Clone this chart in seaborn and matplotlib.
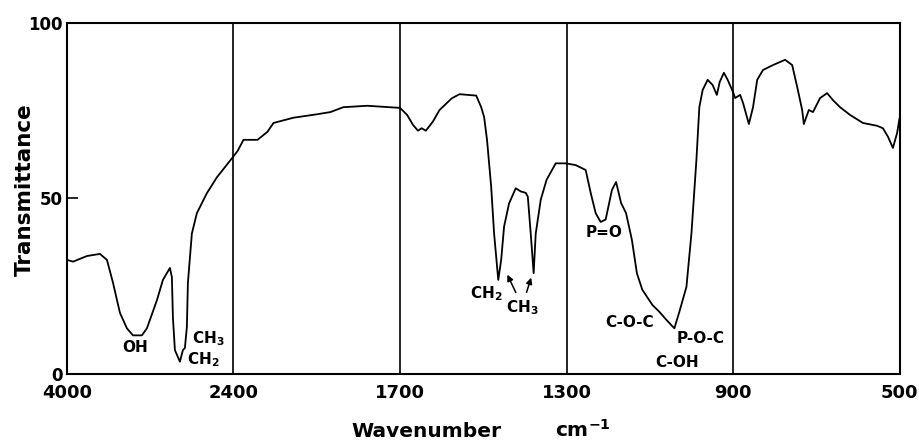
import numpy as np
import matplotlib
matplotlib.use('Agg')
import matplotlib.pyplot as plt
import seaborn as sns
import pandas as pd

# IR spectrum
wavenumber = [4000, 3942, 3808, 3683, 3616, 3558, 3491, 3424, 3366, 3280, 3232, 3136, 3078,
              3011, 2992, 2982, 2963, 2915, 2886, 2867, 2848, 2838, 2800, 2752, 2656, 2560, 2400,
              2383, 2358, 2299, 2257, 2232, 2148, 2047, 1993, 1938, 1837, 1700,
              1683, 1669, 1657, 1648, 1638, 1621, 1605, 1576, 1557, 1517, 1505, 1498, 1491,
              1481, 1474, 1464, 1457, 1450, 1438, 1422, 1410, 1398, 1393, 1386, 1379, 1374,
              1362, 1348, 1326, 1302,
              1278, 1254, 1242, 1230, 1218, 1206, 1191, 1181, 1169, 1157, 1143, 1131, 1118,
              1094, 1077, 1060, 1041, 1029, 1012, 1000, 988, 981, 973, 961, 949, 939, 932,
              922, 913, 900,
              895, 883, 876, 862, 852, 842, 828, 804, 775, 758, 746, 734, 730, 718, 708, 691,
              674, 660, 643, 619, 588, 554, 540, 528, 516, 506, 500]
transmittance = [32.5, 32, 33.6, 34.2, 32.5, 26, 17.4, 13, 11, 11, 13, 21, 26.8,
                 30.2, 27.6, 16, 6.8, 3.5, 6.8, 7.4, 13.4, 26, 40, 45.8, 51.5, 56, 62,
                 63.5, 66.7, 66.7, 69, 71.5, 73, 74, 74.6, 76, 76.4, 75.8,
                 73.8, 71, 69.3, 70, 69.3, 71.9, 75.2, 78.5, 79.7, 79.3, 76, 73.2, 66.7,
                 53.3, 40, 26.8, 32.5, 42, 48.6, 52.9, 52, 51.6, 50.5, 40, 28.7, 40,
                 49.6, 55.3, 60, 60,
                 59.5, 58.1, 51.6, 45.8, 43.3, 44, 52.4, 54.7, 48.7, 45.8, 38.2, 28.7, 24,
                 19.7, 17.7, 15.4, 13, 17.7, 24.8, 40, 61, 76, 80.9, 83.8, 82.3, 79.5, 83.2,
                 85.8, 83.8, 80.3,
                 78.6, 79.5, 77.2, 71.2, 76, 83.8, 86.6, 88, 89.5, 88, 81.8, 75.2, 71.2, 75.2,
                 74.6, 78.6, 80, 78, 76, 73.8, 71.5, 70.7, 70, 67.6, 64.4, 68.6, 72.9]

# axis breaks: each interval gets the same width
breaks = [500, 900, 1300, 1700, 2400, 4000]
xtick_labels = ['4000', '2400', '1700', '1300', '900', '500']

df = pd.DataFrame({'wavenumber': wavenumber, 'T': transmittance})

sns.set_style('white')
plt.rcParams['font.family'] = ['DejaVu Sans']
plt.rcParams['font.weight'] = 'bold'
plt.rcParams['text.color'] = 'black'
plt.rcParams['xtick.color'] = 'black'
plt.rcParams['ytick.color'] = 'black'
plt.rcParams['mathtext.fontset'] = 'custom'
plt.rcParams['mathtext.rm'] = 'DejaVu Sans:bold'
plt.rcParams['mathtext.bf'] = 'DejaVu Sans:bold'
plt.rcParams['mathtext.default'] = 'rm'

seg = np.arange(len(breaks))


def forward(x):
    return np.interp(x, breaks, seg)


def inverse(s):
    return np.interp(s, seg, breaks)


fig = plt.figure(figsize=(9.2, 4.41), dpi=100)
ax = fig.add_axes([0.0728, 0.152, 0.905, 0.796])
ax.set_xscale('function', functions=(forward, inverse))

sns.lineplot(data=df, x='wavenumber', y='T', sort=False, estimator=None,
             color='black', lw=1.3, ax=ax)

ax.set_xlim(4000, 500)
ax.set_ylim(0, 100)
ax.set_xticks([int(t) for t in xtick_labels])
ax.set_xticklabels(xtick_labels, fontsize=13, fontweight='bold')
ax.set_yticks([0, 50, 100])
ax.set_yticklabels(['0', '50', '100'], fontsize=12, fontweight='bold')
ax.tick_params(axis='x', length=0, pad=7, labelcolor='black')
ax.tick_params(axis='y', direction='in', length=8, width=1.2, left=True, pad=3,
               labelcolor='black')
ax.xaxis.grid(True, color='black', lw=1.2)
for s in ax.spines.values():
    s.set_color('black')
    s.set_linewidth(1.5)

ax.set_xlabel('')
ax.set_ylabel('')
fig.text(0.027, 0.569, 'Transmittance', fontsize=15.5, fontweight='bold',
         rotation=90, ha='center', va='center', color='black')
fig.text(0.464, 0.022, 'Wavenumber', fontsize=14.5, fontweight='bold', ha='center',
         va='center', color='black')
fig.text(0.634, 0.026, r'cm$^{-1}$', fontsize=14.5, fontweight='bold', ha='center',
         va='center', color='black')

# band labels
lab = dict(fontsize=11, fontweight='bold', color='black')
ax.text(3347, 7.4, 'OH', ha='center', va='center', **lab)
ax.text(2800, 10, r'CH$_3$', ha='left', va='center', **lab)
ax.text(2842, 4, r'CH$_2$', ha='left', va='center', **lab)
ax.text(1533, 23, r'CH$_2$', ha='left', va='center', **lab)
ax.text(1445, 18.8, r'CH$_3$', ha='left', va='center', **lab)
ax.text(1210, 40.2, 'P=O', ha='center', va='center', **lab)
ax.text(1148, 14.8, 'C-O-C', ha='center', va='center', **lab)
ax.text(978, 10, 'P-O-C', ha='center', va='center', **lab)
ax.text(1034, 3.4, 'C-OH', ha='center', va='center', **lab)

arrow = dict(arrowstyle='-|>', color='black', lw=1.1, mutation_scale=9)
ax.annotate('', xy=(1445, 29), xytext=(1419, 22.5), arrowprops=arrow)
ax.annotate('', xy=(1383, 28.2), xytext=(1398, 22.5), arrowprops=arrow)

fig.savefig('out.png', dpi=100)
